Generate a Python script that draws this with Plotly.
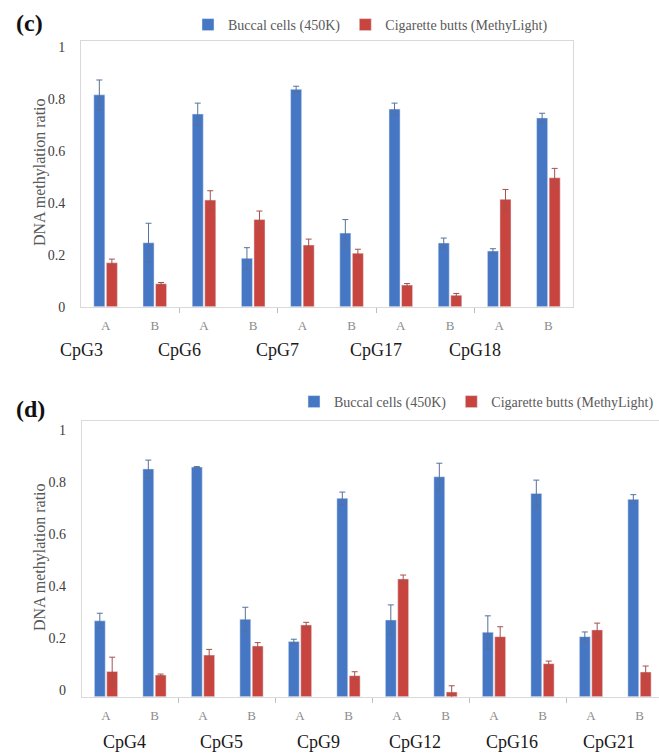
import plotly.graph_objects as go

W, H = 659, 755

# ---------------- data ----------------
samples = ["A", "B"]
series_names = ["Buccal cells (450K)", "Cigarette butts (MethyLight)"]

groups_c = ["CpG3", "CpG6", "CpG7", "CpG17", "CpG18"]
buccal_c = [0.815, 0.246, 0.741, 0.186, 0.836, 0.283, 0.760, 0.245, 0.214, 0.726]
buccal_c_err = [0.057, 0.075, 0.042, 0.041, 0.012, 0.052, 0.023, 0.019, 0.009, 0.018]
butts_c = [0.169, 0.088, 0.410, 0.335, 0.237, 0.206, 0.083, 0.044, 0.413, 0.496]
butts_c_err = [0.014, 0.005, 0.036, 0.033, 0.023, 0.015, 0.006, 0.007, 0.038, 0.036]

groups_d = ["CpG4", "CpG5", "CpG9", "CpG12", "CpG16", "CpG21"]
buccal_d = [0.292, 0.876, 0.883, 0.298, 0.212, 0.763, 0.295, 0.846, 0.248, 0.782, 0.231, 0.759]
buccal_d_err = [0.029, 0.034, 0.002, 0.046, 0.009, 0.024, 0.058, 0.052, 0.063, 0.051, 0.018, 0.018]
butts_d = [0.097, 0.083, 0.160, 0.195, 0.276, 0.081, 0.453, 0.018, 0.231, 0.127, 0.257, 0.095]
butts_d_err = [0.055, 0.004, 0.022, 0.013, 0.010, 0.015, 0.015, 0.024, 0.038, 0.010, 0.026, 0.023]

y_ticks = [0, 0.2, 0.4, 0.6, 0.8, 1]
y_tick_text = ["0", "0.2", "0.4", "0.6", "0.8", "1"]

# ---------------- style ----------------
BLUE = "#4677C4"
RED = "#C8453F"
BLUE_ERR = "#56719C"
RED_ERR = "#A3514E"
FONT = "Liberation Serif, serif"
FRAME = "#D9D9D9"


def px_x(p):
    return p / W


def px_y(p):
    return 1 - p / H


fig = go.Figure()


def add_panel(buccal, bucc_err, butts, butt_err, xa, ya, legend):
    xvals = list(range(len(buccal)))
    fig.add_trace(go.Bar(
        x=xvals, y=buccal, name=series_names[0], marker_color=BLUE,
        error_y=dict(type="data", array=bucc_err, symmetric=True,
                     color=BLUE_ERR, thickness=1, width=3),
        xaxis=xa, yaxis=ya, legend=legend))
    fig.add_trace(go.Bar(
        x=xvals, y=butts, name=series_names[1], marker_color=RED,
        error_y=dict(type="data", array=butt_err, symmetric=True,
                     color=RED_ERR, thickness=1, width=3),
        xaxis=xa, yaxis=ya, legend=legend))


add_panel(buccal_c, buccal_c_err, butts_c, butts_c_err, "x", "y", "legend")
add_panel(buccal_d, buccal_d_err, butts_d, butts_d_err, "x2", "y2", "legend2")

n_c = len(buccal_c)
n_d = len(buccal_d)


def xaxis_cfg(n, domain, rng):
    return dict(
        domain=domain, range=rng, showgrid=False, zeroline=False,
        tickmode="array", tickvals=list(range(n)),
        ticktext=[samples[i % 2] for i in range(n)],
        ticks="", tickfont=dict(family=FONT, size=13, color="#8C8C8C"),
        ticklabelstandoff=7,
        showline=True, linecolor=FRAME, linewidth=1, mirror=True,
        minor=dict(tickmode="array",
                   tickvals=[2 * k + 1.5 for k in range(n // 2 - 1)],
                   ticks="outside", ticklen=5, tickcolor="#BFBFBF", tickwidth=1),
        fixedrange=True)


def yaxis_cfg(domain, rng, anchor, mirror, shift):
    return dict(
        domain=domain, range=rng, anchor=anchor, showgrid=False, zeroline=False,
        tickmode="array", tickvals=y_ticks, ticktext=y_tick_text, ticks="",
        tickfont=dict(family=FONT, size=14, color="#404040"),
        ticklabelstandoff=12, ticklabelshift=shift,
        showline=True, linecolor=FRAME, linewidth=1, mirror=mirror,
        fixedrange=True)


# panel (c) geometry: 0 at 306.7px, 1 at 46.7px, frame top 41px, x 81..573
c_bot, c_top, c_one = 306.7, 41.0, 46.7
unit_c = c_bot - c_one
fig.update_layout(
    xaxis=xaxis_cfg(n_c, [px_x(81), px_x(573)], [-0.5, n_c - 0.5]),
    yaxis=yaxis_cfg([px_y(c_bot), px_y(c_top)], [0, (c_bot - c_top) / unit_c], "x", True, 0),
)

# panel (d) geometry: 0 at 696.7px, 1 at 436.7px, frame top 421px, x 81.75..(cut)
d_bot, d_top, d_one = 696.7, 421.0, 436.7
unit_d = d_bot - d_one
cat_d = 48.5
fig.update_layout(
    xaxis2=dict(xaxis_cfg(n_d, [px_x(81.75), 1.0], [-0.5, -0.5 + (W - 81.75) / cat_d]), anchor="y2"),
    yaxis2=yaxis_cfg([px_y(d_bot), px_y(d_top)], [0, (d_bot - d_top) / unit_d], "x2", False, -7),
)

annotations = []
# panel letters
annotations.append(dict(text="<b>(c)</b>", x=px_x(14), y=px_y(23), xref="paper", yref="paper",
                        xanchor="left", yanchor="middle", showarrow=False,
                        font=dict(family=FONT, size=24, color="#111111")))
annotations.append(dict(text="<b>(d)</b>", x=px_x(14), y=px_y(409), xref="paper", yref="paper",
                        xanchor="left", yanchor="middle", showarrow=False,
                        font=dict(family=FONT, size=24, color="#111111")))
# y titles
for yc in (172, 557):
    annotations.append(dict(text="DNA methylation ratio", x=px_x(40), y=px_y(yc),
                            xref="paper", yref="paper", xanchor="center", yanchor="middle",
                            textangle=-90, showarrow=False,
                            font=dict(family=FONT, size=16, color="#595959")))
# group labels (placed as in the source figure: panel c labels sit one category left)
label_offset_c = -0.5
label_offset_d = 0.38
for k, g in enumerate(groups_c):
    annotations.append(dict(text=g, x=2 * k + label_offset_c, y=px_y(350), xref="x", yref="paper",
                            xanchor="center", yanchor="middle", showarrow=False,
                            font=dict(family=FONT, size=18, color="#1A1A1A")))
for k, g in enumerate(groups_d):
    annotations.append(dict(text=g, x=2 * k + label_offset_d, y=px_y(742), xref="x2", yref="paper",
                            xanchor="center", yanchor="middle", showarrow=False,
                            font=dict(family=FONT, size=18, color="#1A1A1A")))

legend_style = dict(orientation="h", yanchor="middle",
                    font=dict(family=FONT, size=14, color="#595959"),
                    bgcolor="rgba(0,0,0,0)", itemwidth=30, tracegroupgap=0,
                    itemclick=False, itemdoubleclick=False)

fig.update_layout(
    width=W, height=H, autosize=False,
    margin=dict(l=0, r=0, t=0, b=0, autoexpand=False),
    paper_bgcolor="white", plot_bgcolor="white",
    barmode="group", bargap=0.49, bargroupgap=0.12,
    showlegend=True,
    legend=dict(legend_style, x=px_x(188), y=px_y(25), xanchor="left"),
    legend2=dict(legend_style, x=1.0, y=px_y(402), xanchor="right"),
    annotations=annotations,
)

fig.write_html("out.html", config=dict(displayModeBar=False, staticPlot=True))
